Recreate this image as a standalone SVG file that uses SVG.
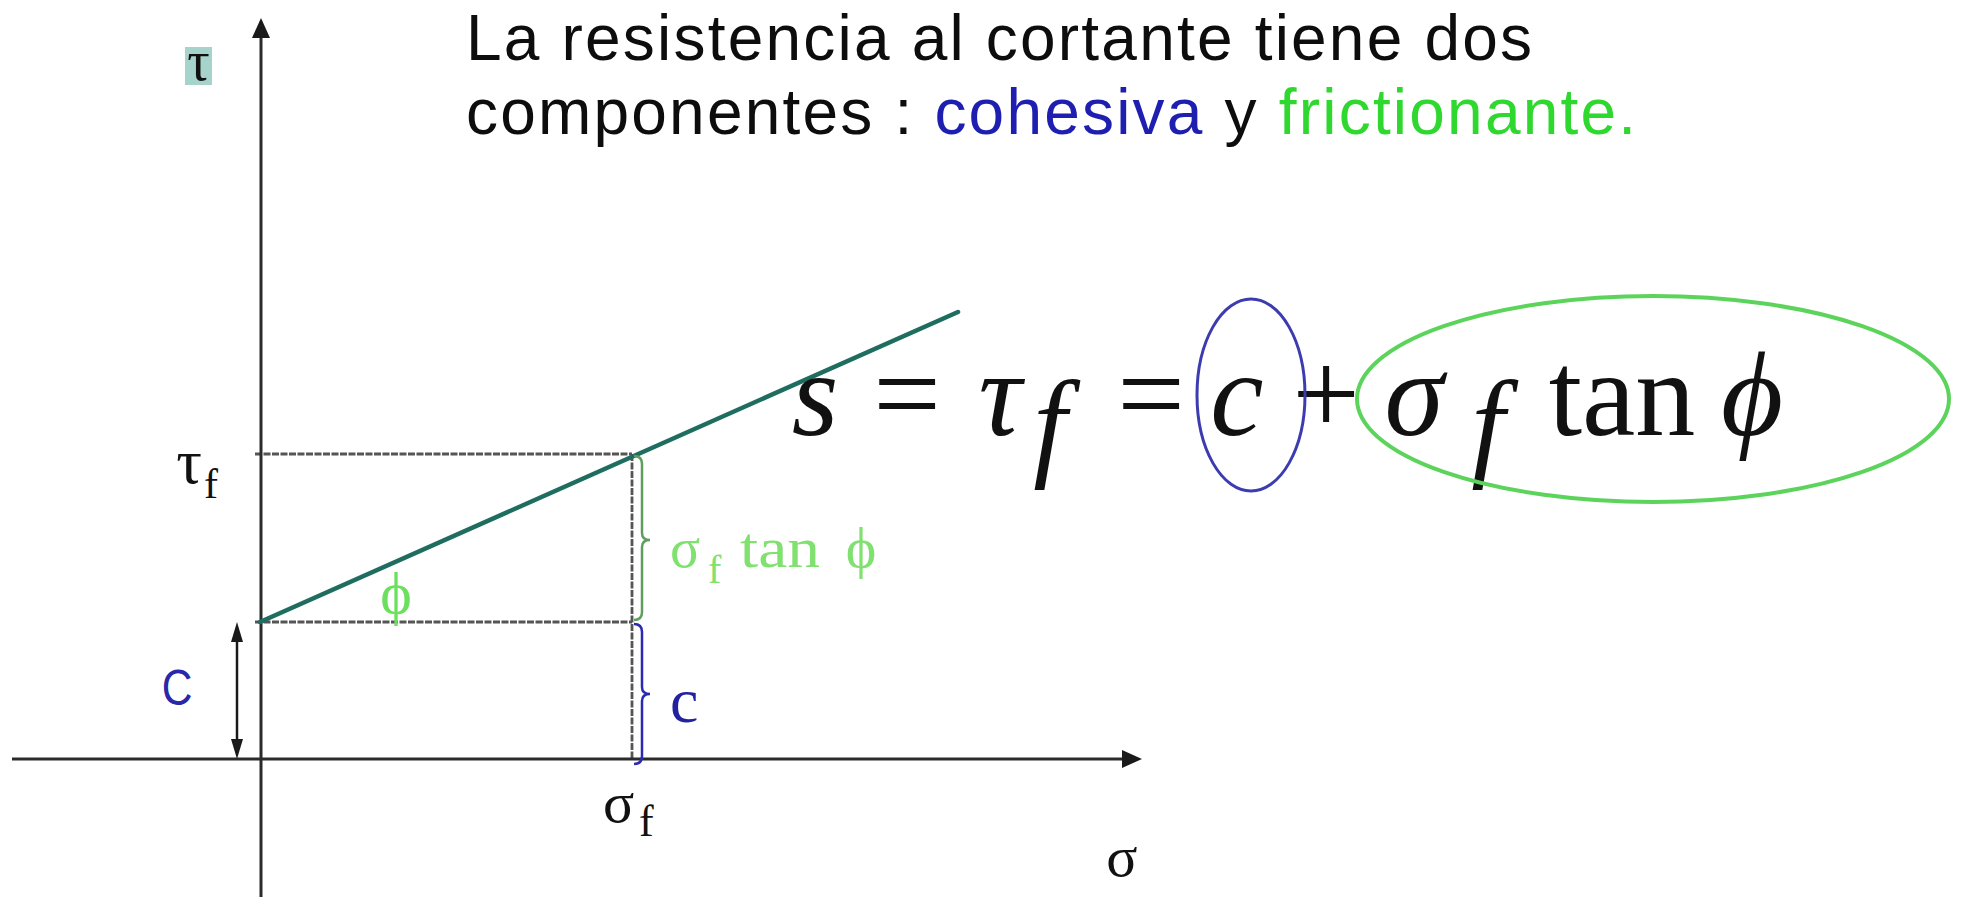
<svg xmlns="http://www.w3.org/2000/svg" width="1963" height="897" viewBox="0 0 1963 897">
<defs>
<style>
.title{font-family:"Liberation Sans",Arial,sans-serif;font-size:64px;letter-spacing:2.2px;fill:#0d0d0d}
.serif{font-family:"Liberation Serif","Times New Roman",serif}
.it{font-style:italic}
.axis{stroke:#2b2b2b;stroke-width:3;fill:none}
.guide{stroke:#555555;stroke-width:2.8;stroke-dasharray:7 1.5;fill:none}
.eq{font-family:"Liberation Serif","Times New Roman",serif;font-size:120px;fill:#111;text-anchor:middle}
</style>
<marker id="arrowBig" markerUnits="userSpaceOnUse" markerWidth="22" markerHeight="20" refX="6" refY="9" orient="auto-start-reverse">
<path d="M0,0 L20,9 L0,18 z" fill="#1a1a1a"/>
</marker>
<marker id="arrowSmall" markerUnits="userSpaceOnUse" markerWidth="22" markerHeight="14" refX="4" refY="6" orient="auto-start-reverse">
<path d="M0,0 L20,6 L0,12 z" fill="#1a1a1a"/>
</marker>
</defs>
<rect width="1963" height="897" fill="#ffffff"/>

<g id="title" class="title">
<text x="466" y="60">La resistencia al cortante tiene dos</text>
<text x="466" y="134">componentes : <tspan fill="#1e1eb0">cohesiva</tspan> y <tspan fill="#2fd82f">frictionante.</tspan></text>
</g>

<g id="connectors">
<line class="guide" x1="255" y1="454" x2="632" y2="454"/>
<line class="guide" x1="255" y1="622" x2="632" y2="622"/>
<line class="guide" x1="632" y1="454" x2="632" y2="759"/>
<line class="axis" x1="261" y1="897" x2="261" y2="32" marker-end="url(#arrowBig)"/>
<line class="axis" x1="12" y1="759" x2="1128" y2="759" marker-end="url(#arrowBig)"/>
<line x1="237" y1="638" x2="237" y2="743" stroke="#1a1a1a" stroke-width="2.5" marker-start="url(#arrowSmall)" marker-end="url(#arrowSmall)"/>
<line id="failure-envelope" x1="260" y1="622" x2="958" y2="312" stroke="#1f6d60" stroke-width="4.5" stroke-linecap="round"/>
<path id="brace-friction" d="M634,456 Q642,456 642,464 L642,533 Q642,540 650,540 Q642,540 642,547 L642,612 Q642,620 634,620" fill="none" stroke="#5f9d5f" stroke-width="2.5"/>
<path id="brace-cohesion" d="M634,624 Q642,624 642,632 L642,687 Q642,694 650,694 Q642,694 642,701 L642,756 Q642,764 634,764" fill="none" stroke="#2b2bb0" stroke-width="2.5"/>
</g>

<g id="tau-axis-label">
<rect x="185" y="47" width="27" height="38" fill="#a6d3cc"/>
<text class="serif" x="198.5" y="80" font-size="56" text-anchor="middle" fill="#111">τ</text>
</g>

<g id="tau-f-label" class="serif" fill="#111">
<text x="189" y="483" font-size="64" text-anchor="middle">τ</text>
<text x="204" y="498" font-size="42">f</text>
</g>

<g id="c-left-label">
<text transform="translate(177,705) scale(0.85,1)" font-family="Liberation Sans, Arial, sans-serif" font-size="50" text-anchor="middle" fill="#2828a8">C</text>
</g>

<g id="phi-angle-label">
<text class="serif" x="396" y="613" font-size="60" text-anchor="middle" fill="#6be05c">ϕ</text>
</g>

<g id="friction-label" class="serif" fill="#80e070">
<text x="670" y="567" font-size="56">σ</text>
<text x="708" y="583" font-size="40">f</text>
<text x="740" y="567" font-size="58" textLength="80" lengthAdjust="spacingAndGlyphs">tan</text>
<text x="861" y="567" font-size="58" text-anchor="middle">ϕ</text>
</g>

<g id="c-right-label">
<text class="serif" x="670" y="722" font-size="64" fill="#2222a0">c</text>
</g>

<g id="sigma-f-label" class="serif" fill="#111">
<text x="603" y="822" font-size="58">σ</text>
<text x="639" y="836" font-size="44">f</text>
</g>

<g id="sigma-axis-label">
<text class="serif" x="1122" y="876" font-size="58" text-anchor="middle" fill="#111">σ</text>
</g>

<g id="formula">
<text class="eq it" x="815" y="435" font-size="128">s</text>
<text class="eq" x="907" y="434">=</text>
<text class="eq it" x="1000" y="435">τ</text>
<text class="eq it" x="1050" y="464" font-size="66">f</text>
<text class="eq" x="1151" y="434">=</text>
<text class="eq it" x="1237" y="435">c</text>
<text class="eq" x="1326" y="434">+</text>
<text class="eq it" x="1414" y="435">σ</text>
<text class="eq it" x="1488" y="464" font-size="66">f</text>
<text class="eq" x="1622" y="435">tan</text>
<text class="eq it" x="1752" y="435">ϕ</text>
</g>

<g id="cohesive-ellipse">
<ellipse cx="1251" cy="395" rx="54" ry="96" fill="none" stroke="#3c3cb0" stroke-width="3"/>
</g>
<g id="frictional-ellipse">
<ellipse cx="1653" cy="399" rx="296" ry="103" fill="none" stroke="#5cd45c" stroke-width="4"/>
</g>
</svg>
